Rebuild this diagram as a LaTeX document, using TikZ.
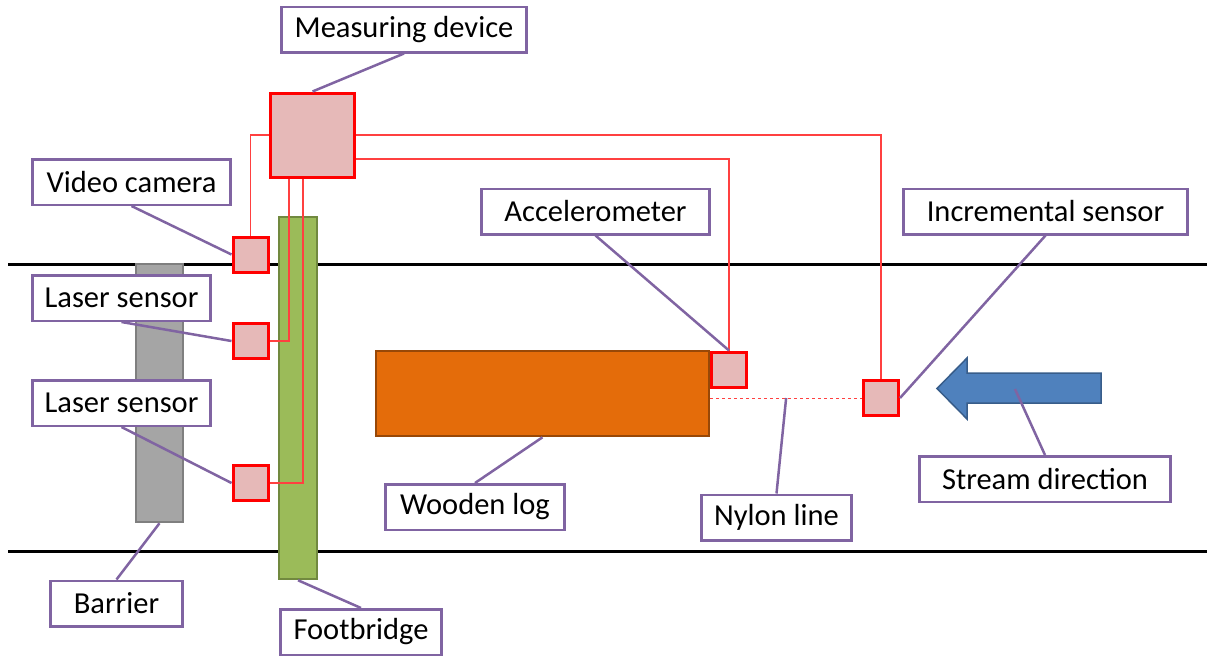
\documentclass[tikz,border=0pt]{standalone}
\usepackage{fontspec}
\setmainfont{Carlito}
\usetikzlibrary{positioning}
\definecolor{sensfill}{HTML}{E6B9B8}
\definecolor{labline}{HTML}{8064A2}
\definecolor{logfill}{HTML}{E46C0A}
\definecolor{logline}{HTML}{984807}
\definecolor{bridgefill}{HTML}{9BBB59}
\definecolor{bridgeline}{HTML}{71893F}
\definecolor{barfill}{HTML}{A5A5A5}
\definecolor{barline}{HTML}{7F7F7F}
\definecolor{flowfill}{HTML}{4F81BD}
\definecolor{flowline}{HTML}{385D8A}
\definecolor{wirered}{HTML}{FF4040}

\begin{document}
\begin{tikzpicture}[x=1pt,y=-1pt,
		sensor/.style={draw=red,fill=sensfill,line width=3pt,minimum size=35pt,inner sep=0pt},
		tag/.style={draw=labline,fill=white,line width=2.5pt,minimum height=45.5pt,inner sep=0pt,
			font=\fontsize{30.5}{34}\selectfont},
		leader/.style={draw=labline,line width=2.5pt},
		wire/.style={draw=wirered,line width=1.3pt},
		block/.style={line width=2.5pt,inner sep=0pt}]
				\useasboundingbox (0,0) rectangle (1207,657);

				\draw[line width=3pt] (8,264)--(1207,264);
				\draw[line width=3pt] (8,551)--(1207,551);

				\node[block,draw=barline,fill=barfill,minimum width=47pt,minimum height=258pt] (barrier) at (159.5,393){};
				\node[block,draw=bridgeline,fill=bridgefill,minimum width=38pt,minimum height=362pt] (bridge) at (298,398){};
				\node[block,draw=logline,fill=logfill,minimum width=333pt,minimum height=85pt] (log) at (542.5,393.5){};

				\node[sensor,minimum size=84pt] (dev) at (312.5,135){};
				\node[sensor] (cam) at (250.5,254.5){};
				\node[sensor] (las1) at (250.5,341){};
				\node[sensor] (las2) at (250.5,483){};
				\node[sensor] (acc) at (729,369.5){};
				\node[sensor] (inc) at (881,398){};

				\draw[wire] (dev.west) -| (cam.north);
				\draw[wire] ([xshift=-23.5pt]dev.south) |- (las1.east);
				\draw[wire] ([xshift=-9.5pt]dev.south) |- (las2.east);
				\draw[wire] ([yshift=-24pt]dev.east) -| (acc.north);
				\draw[wire] (dev.east) -| (inc.north);
				\draw[wire,line width=1pt,dashed] (log.east |- inc.west) -- (inc.west) coordinate[pos=0.5] (nylon);

				\draw[line width=1.5pt,draw=flowline,fill=flowfill]
				(1101,373) -- (967,373) -- (967,358) -- (937,388.5) -- (967,419) -- (967,403) -- (1101,403) -- cycle;
				\coordinate (flow) at (1015,389);

				\node[tag,minimum width=245pt] (ldev) at (404,29.5){Measuring device};
				\node[tag,minimum width=198pt] (lcam) at (131.5,182){Video camera};
				\node[tag,minimum width=178pt] (llas1) at (121.5,298){Laser sensor};
				\node[tag,minimum width=178pt] (llas2) at (121.5,403){Laser sensor};
				\node[tag,minimum width=228pt] (lacc) at (595.5,211.5){Accelerometer};
				\node[tag,minimum width=284pt] (linc) at (1045.5,211.5){Incremental sensor};
				\node[tag,minimum width=179pt] (llog) at (475,507){Wooden log};
				\node[tag,minimum width=150pt] (lnylon) at (776.5,517.5){Nylon line};
				\node[tag,minimum width=251pt] (lflow) at (1045,479){Stream direction};
				\node[tag,minimum width=132pt] (lbarrier) at (116.5,603.5){Barrier};
				\node[tag,minimum width=161pt] (lbridge) at (361,632){Footbridge};

				\draw[leader] (ldev.south) -- (dev.north);
				\draw[leader] (lcam.south) -- (cam.west);
				\draw[leader] (llas1.south) -- (las1.west);
				\draw[leader] (llas2.south) -- (las2.west);
				\draw[leader] (lacc.south) -- (acc.north);
				\draw[leader] (linc.south) -- (inc.east);
				\draw[leader] (llog.north) -- (log.south);
				\draw[leader] (lnylon.north) -- (nylon);
				\draw[leader] (lflow.north) -- (flow);
				\draw[leader] (lbarrier.north) -- (barrier.south);
				\draw[leader] (lbridge.north) -- (bridge.south);
			\end{tikzpicture}
\end{document}
